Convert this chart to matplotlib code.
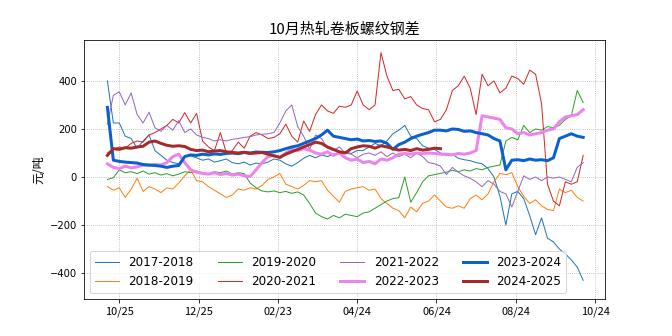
import numpy as np
import matplotlib
matplotlib.use('Agg')
import matplotlib.pyplot as plt

CJK = ['Noto Sans CJK SC', 'DejaVu Sans']
STEP = 3  # trading days between points

seasons = ['2017-2018', '2018-2019', '2019-2020', '2020-2021',
           '2021-2022', '2022-2023', '2023-2024', '2024-2025']

v2017 = [400, 225, 225, 170, 160, 120, 150, 175, 110, 90, 70, 60, 55, 85, 88, 80,
         70, 75, 62, 68, 75, 60, 55, 62, 50, 58, 55, 62, 75, 70, 55, 45, 60, 78,
         90, 80, 92, 85, 95, 100, 105, 98, 110, 110, 125, 140, 130, 150, 180, 195,
         215, 170, 160, 130, 120, 115, 100, 90, 95, 78, 72, 68, 60, 55, 35, 0, -80,
         -200, -70, -60, -90, -160, -240, -170, -255, -270, -300, -320, -345, -375,
         -430]
v2018 = [-40, -55, -45, -85, -50, -5, -60, -40, -50, -65, -45, -50, -25, 5, 30, -15,
         -20, -40, -55, -70, -85, -75, -50, -55, -45, -50, -35, -10, 0, 15, -30, -40,
         -50, -35, -15, -20, -15, -55, -80, -105, -60, -50, -45, -40, -55, -50, -90,
         -110, -130, -140, -170, -125, -145, -110, -100, -75, -100, -125, -130, -120,
         -130, -90, -75, -95, -70, -20, 15, 10, 18, -40, -80, -110, -95, -120, -135,
         -140, -50, -65, -55, -85, -100]
v2019 = [-10, -3, 30, 18, 22, 14, 25, 12, 18, 8, 14, 5, 12, 22, 18, 25, 18, 14, 22,
         18, 25, 12, 18, 14, -25, -45, -58, -62, -58, -65, -60, -68, -62, -75, -110,
         -150, -165, -175, -160, -170, -155, -160, -165, -150, -145, -130, -115, -100,
         -90, -86, 0, -105, -65, -20, 5, 10, 15, 20, 28, 22, 30, 25, 35, 30, 40, 45,
         50, 150, 165, 155, 215, 185, 200, 195, 210, 205, 215, 240, 255, 360, 310]
v2020 = [100, 115, 125, 120, 140, 150, 145, 175, 185, 200, 215, 240, 225, 268, 225,
         265, 150, 125, 110, 185, 100, 110, 145, 120, 170, 185, 175, 160, 165, 180,
         220, 170, 145, 233, 190, 260, 300, 275, 265, 295, 290, 300, 358, 300, 280,
         300, 518, 420, 360, 365, 325, 335, 300, 285, 280, 230, 240, 280, 360, 380,
         420, 370, 260, 428, 380, 400, 350, 370, 420, 410, 386, 445, 428, 305, -30,
         -100, -120, -20, -30, -20, 90]
v2021 = [220, 340, 355, 300, 350, 260, 225, 270, 205, 190, 215, 195, 235, 185, 200,
         175, 165, 160, 150, 155, 150, 157, 160, 165, 168, 175, 178, 180, 185, 225,
         275, 300, 210, 170, 115, 175, 160, 120, 110, 125, 100, 95, 80, 95, 100, 90,
         105, 85, 100, 85, 95, 80, 100, 85, 60, 55, 45, 10, 40, 20, 5, -5, -20, -40,
         -15, -30, -60, -70, -125, -60, 5, -10, 0, -15, 0, -5, 0, -10, -20, 40, 60]
v2022 = [55, 40, 35, 45, 38, 42, 50, 48, 52, 50, 60, 85, 95, 60, 30, 20, 15, 12, 18,
         10, 15, 8, 12, 5, 2, 30, 60, 85, 90, 80, 100, 115, 110, 118, 112, 100, 95,
         105, 90, 100, 80, 70, 75, 60, 65, 55, 75, 70, 80, 95, 98, 95, 100, 97, 100,
         98, 95, 95, 92, 98, 95, 100, 110, 255, 250, 245, 240, 205, 200, 180, 185,
         175, 180, 185, 195, 200, 230, 250, 255, 260, 280]
v2023 = [290, 70, 65, 62, 60, 58, 52, 50, 48, 45, 40, 45, 48, 85, 92, 90, 95, 92, 96,
         94, 98, 100, 97, 102, 100, 104, 103, 102, 105, 110, 118, 125, 130, 140, 150,
         160, 175, 195, 170, 165, 160, 155, 158, 150, 152, 148, 150, 140, 115, 135,
         145, 160, 170, 178, 185, 195, 195, 192, 200, 198, 190, 192, 185, 180, 175,
         160, 150, 30, 70, 72, 68, 75, 70, 72, 68, 80, 160, 170, 180, 170, 165]
v2024 = [90, 118, 115, 122, 120, 125, 128, 145, 150, 140, 132, 128, 130, 127, 115,
         110, 112, 105, 108, 110, 105, 102, 100, 103, 98, 100, 102, 95, 88, 82, 95,
         105, 115, 125, 135, 145, 140, 125, 115, 105, 100, 118, 125, 130, 128, 120,
         130, 125, 118, 112, 115, 110, 118, 112, 115, 120, 118]

series = [v2017, v2018, v2019, v2020, v2021, v2022, v2023, v2024]
colors = ['#1f77b4', '#ff7f0e', '#2ca02c', '#d62728', '#9467bd',
          'violet', '#0a60d0', '#a52a2a']
widths = [1, 1, 1, 1, 1, 3, 3, 3]

tick_days = [6, 46, 86, 126, 166, 206, 246]
tick_labels = ['10/25', '12/25', '02/23', '04/24', '06/24', '08/24', '10/24']

fig, ax = plt.subplots(figsize=(672 / 72, 336 / 72), dpi=72)

for name, vals, c, lw in zip(seasons, series, colors, widths):
    days = np.arange(len(vals)) * STEP
    ax.plot(days, vals, color=c, lw=lw, label=name)

ax.set_xlim(-11.8, 250.9)
ax.set_ylim(-508, 569)
ax.set_yticks([-400, -200, 0, 200, 400])
ax.set_xticks(tick_days)
ax.set_xticklabels(tick_labels, family=CJK, fontsize=11)
ax.grid(True, linestyle=':', color='#aaaaaa')

ax.set_title('10月热轧卷板螺纹钢差', family=CJK, fontsize=15)
ax.set_ylabel('元/吨', family=CJK, fontsize=12)
ax.legend(loc='lower left', ncol=4, fontsize=12)

fig.savefig('out.png', dpi=72)
